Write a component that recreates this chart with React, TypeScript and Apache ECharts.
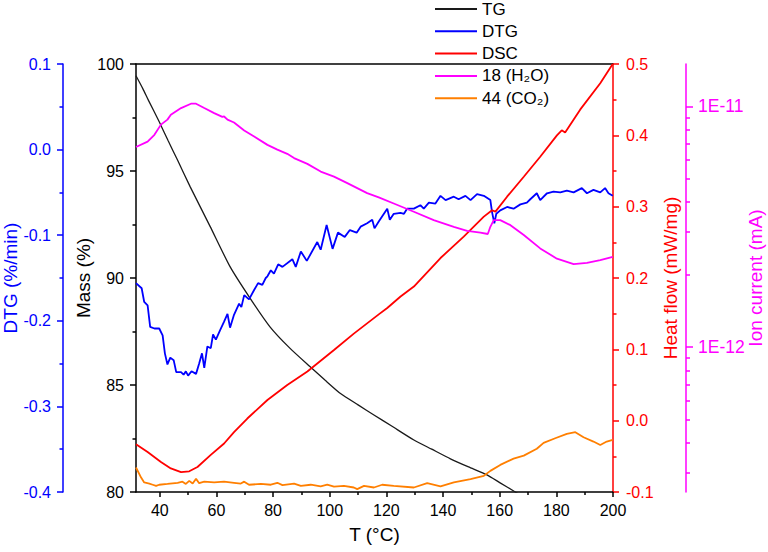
import React, { useEffect, useRef } from 'react';
import * as echarts from 'echarts';

const FONT = '"Liberation Sans", Arial, Helvetica, sans-serif';

// ---- TG (Mass %) ----
const tgTemp = [31.6, 34, 36, 39.8, 43, 46.3, 50.7, 57.8, 64.8, 71.9, 78.9, 86, 93, 98.3, 103.8, 110, 115.6, 122, 129.7, 136, 142.6, 149, 155.5, 160, 165.5, 175, 185, 200];
const tgMass = [99.45, 98.85, 98.3, 97.3, 96.4, 95.5, 94.27, 92.4, 90.53, 89.05, 87.72, 86.71, 85.86, 85.23, 84.6, 84.07, 83.6, 83.07, 82.43, 82.0, 81.55, 81.17, 80.8, 80.44, 80.0, 79.25, 78.45, 77.25];

// ---- DTG (%/min) ----
const dtgTemp = [31.6, 33.6, 34.5, 35.7, 36.6, 38.1, 39.8, 41.0, 41.8, 42.7, 43.7, 44.9, 45.8, 47.5, 48.4, 49.2, 50.0, 51.2, 52.8, 53.9, 54.9, 55.7, 56.8, 58.0, 58.8, 59.8, 61.3, 62.7, 63.9, 64.8, 66.2, 68.0, 68.8, 69.8, 71.5, 73.3, 74.7, 76.2, 77.4, 78.0, 79.2, 80.3, 81.8, 83.3, 86.8, 88.0, 89.8, 91.9, 95.6, 96.8, 98.9, 101.0, 102.9, 105.3, 107.1, 109.5, 110.9, 113.2, 115.0, 115.8, 117.3, 120.3, 121.2, 122.6, 125.0, 126.2, 127.3, 129.7, 132.0, 133.2, 135.0, 137.3, 139.1, 140.9, 143.8, 145.5, 147.9, 149.7, 152.0, 154.4, 156.7, 157.3, 158.1, 158.8, 160.2, 162.6, 164.9, 167.3, 169.6, 170.8, 173.1, 174.3, 176.7, 179.0, 181.4, 183.7, 186.1, 189.0, 190.8, 193.1, 195.5, 197.2, 198.4, 199.9];
const dtgValue = [-0.156, -0.162, -0.178, -0.182, -0.207, -0.209, -0.209, -0.217, -0.238, -0.251, -0.243, -0.246, -0.260, -0.260, -0.263, -0.259, -0.264, -0.259, -0.262, -0.250, -0.238, -0.255, -0.230, -0.232, -0.216, -0.222, -0.211, -0.201, -0.192, -0.208, -0.193, -0.180, -0.184, -0.170, -0.175, -0.164, -0.156, -0.158, -0.150, -0.148, -0.141, -0.145, -0.134, -0.137, -0.128, -0.137, -0.119, -0.130, -0.108, -0.117, -0.088, -0.116, -0.097, -0.102, -0.094, -0.097, -0.090, -0.086, -0.082, -0.092, -0.084, -0.069, -0.082, -0.075, -0.074, -0.075, -0.069, -0.069, -0.065, -0.069, -0.062, -0.063, -0.054, -0.059, -0.055, -0.058, -0.054, -0.059, -0.052, -0.054, -0.059, -0.073, -0.086, -0.075, -0.071, -0.067, -0.069, -0.064, -0.062, -0.058, -0.051, -0.059, -0.051, -0.049, -0.050, -0.048, -0.050, -0.045, -0.051, -0.047, -0.050, -0.045, -0.051, -0.054];

// ---- DSC (mW/mg) ----
const dscTemp = [31.6, 35.7, 40.4, 43.9, 47.5, 50.4, 53.3, 58.0, 62.7, 66.2, 70.9, 78.0, 85.0, 92.1, 101.5, 108.5, 117.3, 120.3, 125.0, 129.7, 139.1, 147.3, 154.4, 157.3, 158.5, 162.6, 168.5, 174.3, 180.2, 181.9, 183.1, 188.4, 195.5, 199.9];
const dscValue = [-0.033, -0.044, -0.058, -0.067, -0.072, -0.071, -0.065, -0.048, -0.032, -0.016, 0.003, 0.029, 0.050, 0.069, 0.099, 0.122, 0.149, 0.158, 0.174, 0.188, 0.228, 0.258, 0.286, 0.295, 0.293, 0.314, 0.342, 0.370, 0.400, 0.407, 0.404, 0.436, 0.473, 0.500];

// ---- Ion current m/z 18 (A) ----
const h2oTemp = [31.6, 35.7, 38.1, 40.4, 42.7, 43.9, 47.5, 51.0, 52.8, 55.7, 59.2, 62.1, 62.7, 63.9, 66.2, 69.8, 73.3, 78.0, 81.5, 85.0, 87.4, 92.1, 96.8, 101.5, 106.2, 113.2, 117.3, 122.6, 129.7, 136.7, 143.8, 148.5, 153.2, 155.8, 156.7, 157.9, 160.2, 163.8, 168.5, 174.3, 180.2, 186.1, 190.8, 195.5, 199.9];
const h2oIon = [6.78e-12, 7.14e-12, 7.62e-12, 8.40e-12, 8.81e-12, 9.23e-12, 9.84e-12, 1.026e-11, 1.026e-11, 9.84e-12, 9.38e-12, 9.04e-12, 9.08e-12, 8.81e-12, 8.57e-12, 7.94e-12, 7.50e-12, 6.92e-12, 6.61e-12, 6.35e-12, 6.10e-12, 5.77e-12, 5.36e-12, 5.11e-12, 4.80e-12, 4.36e-12, 4.19e-12, 3.95e-12, 3.65e-12, 3.37e-12, 3.16e-12, 3.04e-12, 2.99e-12, 2.95e-12, 3.16e-12, 3.37e-12, 3.37e-12, 3.21e-12, 2.92e-12, 2.57e-12, 2.33e-12, 2.21e-12, 2.24e-12, 2.30e-12, 2.37e-12];

// ---- Ion current m/z 44 (A) ----
const co2Temp = [31.6, 33.4, 34.5, 36.3, 37.5, 38.7, 39.8, 42.7, 46.3, 48.0, 49.2, 50.4, 51.6, 52.8, 53.9, 55.7, 59.2, 62.7, 66.2, 68.6, 69.8, 71.5, 75.7, 79.2, 81.5, 83.3, 87.4, 89.8, 93.3, 96.8, 99.1, 101.5, 105.0, 108.5, 109.7, 112.1, 115.6, 118.5, 122.6, 129.7, 134.4, 139.1, 143.8, 149.7, 154.4, 156.7, 160.2, 164.9, 168.5, 173.1, 175.5, 179.6, 183.7, 186.7, 189.6, 193.1, 195.5, 197.8, 199.9];
const co2Ion = [3.16e-13, 2.87e-13, 2.74e-13, 2.71e-13, 2.68e-13, 2.65e-13, 2.68e-13, 2.70e-13, 2.73e-13, 2.76e-13, 2.70e-13, 2.78e-13, 2.71e-13, 2.84e-13, 2.72e-13, 2.76e-13, 2.74e-13, 2.76e-13, 2.73e-13, 2.71e-13, 2.76e-13, 2.68e-13, 2.70e-13, 2.68e-13, 2.73e-13, 2.67e-13, 2.71e-13, 2.65e-13, 2.68e-13, 2.64e-13, 2.68e-13, 2.63e-13, 2.65e-13, 2.61e-13, 2.57e-13, 2.65e-13, 2.61e-13, 2.68e-13, 2.65e-13, 2.61e-13, 2.72e-13, 2.64e-13, 2.74e-13, 2.83e-13, 2.92e-13, 3.06e-13, 3.24e-13, 3.44e-13, 3.54e-13, 3.78e-13, 4.00e-13, 4.18e-13, 4.36e-13, 4.43e-13, 4.22e-13, 4.05e-13, 3.92e-13, 4.05e-13, 4.12e-13];

// ---- axes ----
const xLabelTicks = [40, 60, 80, 100, 120, 140, 160, 180, 200];
const xMinorTicks = [50, 70, 90, 110, 130, 150, 170, 190];
const ionMajorTicks = [1e-12, 1e-11];
const ionMinorTicks = [3e-13, 4e-13, 5e-13, 6e-13, 7e-13, 8e-13, 9e-13, 2e-12, 3e-12, 4e-12, 5e-12, 6e-12, 7e-12, 8e-12, 9e-12];
const ionMin = 2.5e-13;
const ionMax = 1.5e-11;
const xMin = 31.6;
const xMax = 200;

const BLUE = '#0000ff';
const RED = '#ff0000';
const MAGENTA = '#ff00ff';
const ORANGE = '#ff7f00';
const BLACK = '#000000';

const pairs = (xs: number[], ys: number[]) => xs.map((x, i) => [x, ys[i]]);
const lg = (v: number) => Math.log10(v);
const fmt1 = (v: number) => (Math.abs(v) < 1e-9 ? '0.0' : v.toFixed(1));

function valueAxis(color: string, extra: any) {
  return {
    type: 'value',
    splitLine: { show: false },
    axisLine: { show: true, onZero: false, lineStyle: { color, width: 1.5 } },
    axisTick: { show: true, length: 6, lineStyle: { color, width: 1.5 } },
    minorTick: { show: true, splitNumber: 2, length: 3.5, lineStyle: { color, width: 1.5 } },
    axisLabel: { color, fontSize: 16, fontFamily: FONT, margin: 12 },
    nameLocation: 'middle',
    nameRotate: 90,
    nameMoveOverlap: false,
    nameTextStyle: { color, fontSize: 19, fontFamily: FONT },
    ...extra,
  };
}

function buildOption() {
  const ionLo = lg(ionMin);
  const ionHi = lg(ionMax);
  return {
    animation: false,
    textStyle: { fontFamily: FONT },
    grid: { left: 136, right: 155, top: 64, bottom: 60, containLabel: false, outerBoundsMode: 'none' },
    legend: {
      orient: 'vertical',
      left: 435,
      top: 0,
      padding: 0,
      icon: 'rect',
      itemWidth: 42,
      itemHeight: 2,
      itemGap: 4.3,
      textStyle: { fontSize: 17, fontFamily: FONT, color: BLACK, lineHeight: 18 },
      data: ['TG', 'DTG', 'DSC', '18 (H\u2082O)', '44 (CO\u2082)'],
    },
    xAxis: [
      {
        type: 'value',
        position: 'bottom',
        min: xMin,
        max: xMax,
        splitLine: { show: false },
        axisLine: { show: true, onZero: false, lineStyle: { color: BLACK, width: 1.5 } },
        axisTick: { show: true, length: 5, customValues: xLabelTicks, lineStyle: { color: BLACK, width: 1.5 } },
        axisLabel: { customValues: xLabelTicks, color: BLACK, fontSize: 16, fontFamily: FONT, margin: 10 },
        name: 'T (°C)',
        nameLocation: 'middle',
        nameGap: 33,
        nameMoveOverlap: false,
        nameTextStyle: { color: BLACK, fontSize: 19, fontFamily: FONT },
      },
      {
        type: 'value',
        position: 'bottom',
        min: xMin,
        max: xMax,
        splitLine: { show: false },
        axisLine: { show: false, onZero: false },
        axisTick: { show: true, length: 3, customValues: xMinorTicks, lineStyle: { color: BLACK, width: 1.5 } },
        axisLabel: { show: false },
      },
      {
        type: 'value',
        position: 'top',
        min: xMin,
        max: xMax,
        splitLine: { show: false },
        axisLine: { show: true, onZero: false, lineStyle: { color: BLACK, width: 1.5 } },
        axisTick: { show: false },
        axisLabel: { show: false },
      },
    ],
    yAxis: [
      valueAxis(BLUE, {
        position: 'left',
        offset: 73,
        min: -0.4,
        max: 0.1,
        interval: 0.1,
        axisLabel: { color: BLUE, fontSize: 16, fontFamily: FONT, margin: 12, formatter: fmt1 },
        name: 'DTG (%/min)',
        nameGap: 43.5,
      }),
      valueAxis(BLACK, {
        position: 'left',
        offset: 0,
        min: 80,
        max: 100,
        interval: 5,
        name: 'Mass (%)',
        nameGap: 43,
      }),
      valueAxis(RED, {
        position: 'right',
        offset: 0,
        min: -0.1,
        max: 0.5,
        interval: 0.1,
        axisLabel: { color: RED, fontSize: 16, fontFamily: FONT, margin: 13, formatter: fmt1 },
        name: 'Heat flow (mW/mg)',
        nameGap: 47.5,
      }),
      {
        type: 'log',
        logBase: 10,
        position: 'right',
        min: ionMin,
        max: ionMax,
        show: false,
        splitLine: { show: false },
      },
      valueAxis(MAGENTA, {
        position: 'right',
        offset: 73,
        min: ionLo,
        max: ionHi,
        minorTick: { show: false },
        axisTick: { show: true, length: 7, customValues: ionMajorTicks.map(lg), lineStyle: { color: MAGENTA, width: 1.5 } },
        axisLabel: {
          customValues: ionMajorTicks.map(lg),
          color: MAGENTA,
          fontSize: 17.5,
          fontFamily: FONT,
          margin: 12,
          formatter: (v: number) => '1E' + Math.round(v),
        },
        name: 'Ion current (mA)',
        nameGap: 59.5,
      }),
      {
        type: 'value',
        position: 'right',
        offset: 73,
        min: ionLo,
        max: ionHi,
        splitLine: { show: false },
        axisLine: { show: false },
        axisTick: { show: true, length: 4, customValues: ionMinorTicks.map(lg), lineStyle: { color: MAGENTA, width: 1.5 } },
        axisLabel: { show: false },
      },
    ],
    series: [
      {
        type: 'line', name: 'TG', xAxisIndex: 0, yAxisIndex: 1, symbol: 'none', smooth: 0.2,
        data: pairs(tgTemp, tgMass),
        lineStyle: { color: '#1a1a1a', width: 1.3 }, itemStyle: { color: '#1a1a1a' },
      },
      {
        type: 'line', name: 'DTG', xAxisIndex: 0, yAxisIndex: 0, symbol: 'none',
        data: pairs(dtgTemp, dtgValue),
        lineStyle: { color: BLUE, width: 1.8 }, itemStyle: { color: BLUE },
      },
      {
        type: 'line', name: 'DSC', xAxisIndex: 0, yAxisIndex: 2, symbol: 'none',
        data: pairs(dscTemp, dscValue),
        lineStyle: { color: RED, width: 1.8 }, itemStyle: { color: RED },
      },
      {
        type: 'line', name: '18 (H\u2082O)', xAxisIndex: 0, yAxisIndex: 3, symbol: 'none',
        data: pairs(h2oTemp, h2oIon),
        lineStyle: { color: MAGENTA, width: 1.8 }, itemStyle: { color: MAGENTA },
      },
      {
        type: 'line', name: '44 (CO\u2082)', xAxisIndex: 0, yAxisIndex: 3, symbol: 'none',
        data: pairs(co2Temp, co2Ion),
        lineStyle: { color: ORANGE, width: 1.8 }, itemStyle: { color: ORANGE },
      },
    ],
  };
}

export default function App() {
  const ref = useRef<HTMLDivElement>(null);
  useEffect(() => {
    if (!ref.current) return;
    const chart = echarts.init(ref.current, null, { renderer: 'svg' });
    chart.setOption(buildOption() as any);
    return () => chart.dispose();
  }, []);
  return (
    <div
      ref={ref}
      style={{ position: 'fixed', left: 0, top: 0, width: 768, height: 552, background: '#ffffff' }}
    />
  );
}
